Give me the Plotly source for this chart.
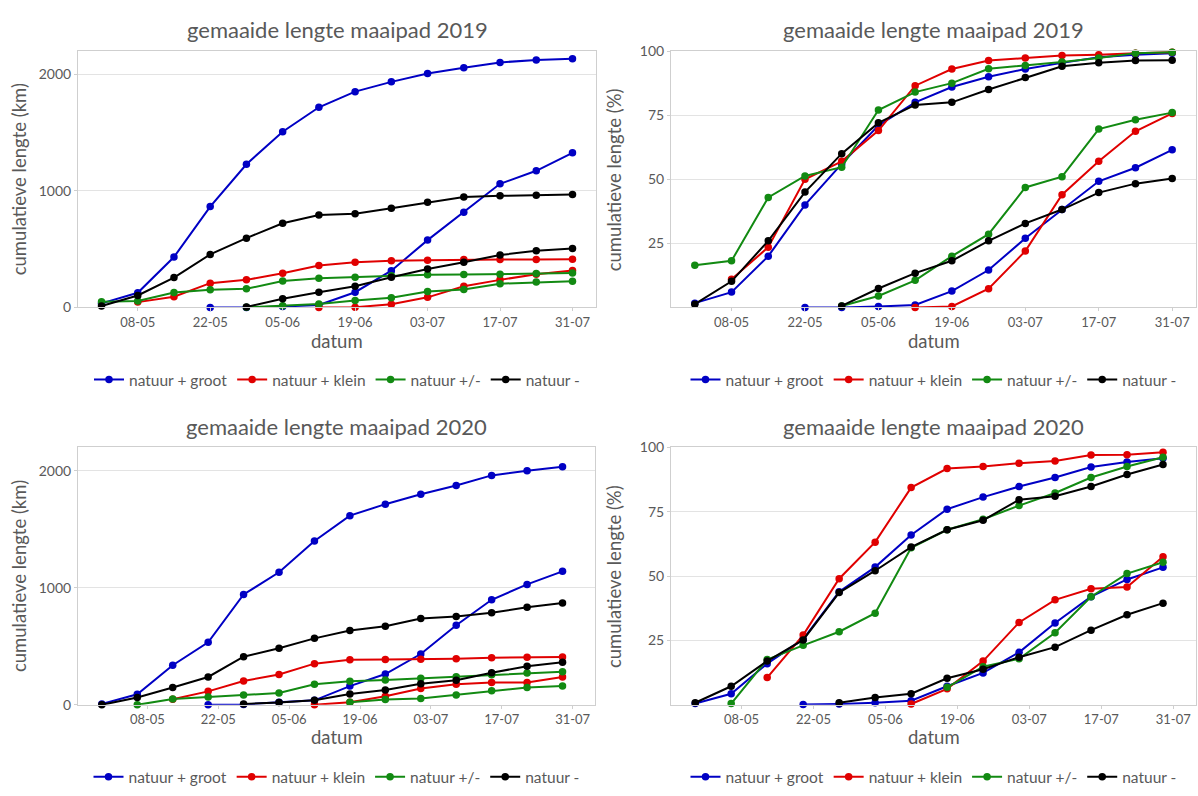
import plotly.graph_objects as go

# ---------------- data ----------------
dates_2019 = ["2019-05-01", "2019-05-08", "2019-05-15", "2019-05-22", "2019-05-29", "2019-06-05", "2019-06-12",
              "2019-06-19", "2019-06-26", "2019-07-03", "2019-07-10", "2019-07-17", "2019-07-24", "2019-07-31"]
dates_2020 = ["2020-04-29", "2020-05-06", "2020-05-13", "2020-05-20", "2020-05-27", "2020-06-03", "2020-06-10",
              "2020-06-17", "2020-06-24", "2020-07-01", "2020-07-08", "2020-07-15", "2020-07-22", "2020-07-29"]

categories = ["natuur + groot", "natuur + klein", "natuur +/-", "natuur -"]
tick_labels = ["08-05", "22-05", "05-06", "19-06", "03-07", "17-07", "31-07"]
ticks_2019 = ["2019-05-08", "2019-05-22", "2019-06-05", "2019-06-19", "2019-07-03", "2019-07-17", "2019-07-31"]
ticks_2020 = ["2020-05-08", "2020-05-22", "2020-06-05", "2020-06-19", "2020-07-03", "2020-07-17", "2020-07-31"]
km_ticks = [0, 1000, 2000]
pct_ticks = [25, 50, 75, 100]

N = None
# 2019, km
km19_groot_1 = [35, 126, 433, 866, 1229, 1508, 1718, 1852, 1936, 2008, 2056, 2103, 2123, 2134]
km19_groot_2 = [N, N, N, 0, 0, 8, 22, 131, 316, 578, 818, 1061, 1173, 1327]
km19_klein_1 = [N, 46, 92, 209, 237, 293, 360, 388, 402, 405, 411, 411, 411, 413]
km19_klein_2 = [N, N, N, N, N, N, 0, 2, 28, 87, 182, 237, 285, 318]
km19_pm_1 = [50, 55, 128, 152, 160, 228, 250, 260, 272, 280, 282, 285, 292, 296]
km19_pm_2 = [N, N, N, N, 2, 14, 30, 61, 84, 137, 154, 204, 218, 226]
km19_min_1 = [13, 103, 257, 455, 595, 723, 793, 804, 852, 902, 947, 958, 964, 969]
km19_min_2 = [N, N, N, N, 5, 75, 131, 182, 260, 330, 388, 450, 486, 506]
# 2019, %
pct19_groot_1 = [1.7, 6, 20, 40, 56, 71, 80, 86, 90, 93, 95.4, 97.6, 98.6, 99.2]
pct19_groot_2 = [N, N, N, 0, 0, 0.4, 1, 6.4, 14.6, 27, 38.2, 49.2, 54.5, 61.5]
pct19_klein_1 = [N, 11, 23.5, 50, 57, 69, 86.5, 93, 96.3, 97.3, 98.3, 98.6, 99.2, 99.5]
pct19_klein_2 = [N, N, N, N, N, N, 0, 0.4, 7.3, 22, 44, 57, 68.7, 75.7]
pct19_pm_1 = [16.5, 18.2, 42.9, 51.3, 54.7, 77, 84, 87.5, 93.1, 94.4, 95.7, 97.3, 99.2, 99.5]
pct19_pm_2 = [N, N, N, N, 0.6, 4.5, 10.6, 20, 28.6, 46.8, 51, 69.6, 73.2, 76]
pct19_min_1 = [1.3, 10.2, 26, 45, 60, 72, 79, 80, 85, 89.7, 94.1, 95.4, 96.3, 96.4]
pct19_min_2 = [N, N, N, N, 0.6, 7.4, 13.4, 18.2, 26, 32.8, 38.2, 44.8, 48.3, 50.3]
# 2020, km
km20_groot_1 = [8, 90, 338, 534, 943, 1133, 1401, 1617, 1715, 1799, 1874, 1961, 2000, 2034]
km20_groot_2 = [N, N, N, 0, 3, 21, 38, 160, 263, 434, 680, 898, 1029, 1141]
km20_klein_1 = [N, N, 47, 115, 204, 260, 352, 385, 388, 389, 394, 403, 406, 408]
km20_klein_2 = [N, N, N, N, N, N, 0, 22, 74, 140, 176, 190, 190, 238]
km20_pm_1 = [N, 0, 49, 67, 83, 101, 176, 201, 213, 228, 240, 257, 271, 283]
km20_pm_2 = [N, N, N, N, N, N, N, 21, 45, 54, 84, 120, 148, 160]
km20_min_1 = [0, 62, 148, 238, 411, 484, 568, 635, 671, 738, 755, 786, 834, 870]
km20_min_2 = [N, N, N, N, 8, 20, 39, 92, 127, 180, 210, 274, 330, 364]
# 2020, %
pct20_groot_1 = [0.5, 4.3, 16, 25.5, 43.9, 53.5, 66, 76, 80.7, 84.8, 88.3, 92.4, 94.3, 95.8]
pct20_groot_2 = [N, N, N, 0.1, 0.3, 0.8, 1.6, 7.2, 12.4, 20.4, 31.8, 42, 48.7, 53.4]
pct20_klein_1 = [N, N, 10.6, 27.1, 49, 63.2, 84.4, 91.8, 92.6, 93.9, 94.7, 97.1, 97.2, 98.1]
pct20_klein_2 = [N, N, N, N, N, N, 0.3, 6.2, 17, 32, 40.8, 45.1, 45.8, 57.5]
pct20_pm_1 = [N, 0.5, 17.6, 23.1, 28.4, 35.6, 61, 68, 72.1, 77.4, 82.3, 88.3, 92.6, 96.2]
pct20_pm_2 = [N, N, N, N, N, N, N, 6.8, 14.8, 17.9, 28, 42, 51, 55.4]
pct20_min_1 = [0.8, 7.2, 17, 25.2, 43.6, 52.1, 61.3, 68, 71.7, 79.7, 81, 84.8, 89.5, 93.4]
pct20_min_2 = [N, N, N, N, 0.8, 2.8, 4.3, 10.3, 13.8, 18.5, 22.4, 29, 35, 39.5]

# ---------------- style ----------------
colors = ["#0000C4", "#E00000", "#128A12", "#000000"]
FONT = "Lato"
TXT = "#595959"
W, H = 1198, 796

def px_x(x):
    return x / W

def px_y(y):
    return 1 - y / H

panels = [
    dict(ax="x", ay="y", lg="legend", dates=dates_2019, ticks=ticks_2019,
         series=[(km19_groot_1, km19_groot_2), (km19_klein_1, km19_klein_2), (km19_pm_1, km19_pm_2), (km19_min_1, km19_min_2)],
         px=(78, 596), py=(43, 305), xr=["2019-04-26 11:00", "2019-08-04 13:00"], yr=[0, 2200], yt=km_ticks,
         ytitle="cumulatieve lengte (km)", title="gemaaide lengte maaipad 2019", ytx=19, tty=21, xty=339, lgy=379),
    dict(ax="x2", ay="y2", lg="legend2", dates=dates_2019, ticks=ticks_2019,
         series=[(pct19_groot_1, pct19_groot_2), (pct19_klein_1, pct19_klein_2), (pct19_pm_1, pct19_pm_2), (pct19_min_1, pct19_min_2)],
         px=(671, 1196), py=(43, 305), xr=["2019-04-26 11:00", "2019-08-04 13:00"], yr=[0, 100], yt=pct_ticks,
         ytitle="cumulatieve lengte (%)", title="gemaaide lengte maaipad 2019", ytx=614, tty=21, xty=339, lgy=379),
    dict(ax="x3", ay="y3", lg="legend3", dates=dates_2020, ticks=ticks_2020,
         series=[(km20_groot_1, km20_groot_2), (km20_klein_1, km20_klein_2), (km20_pm_1, km20_pm_2), (km20_min_1, km20_min_2)],
         px=(78, 595), py=(448, 711), xr=["2020-04-24 07:00", "2020-08-04 10:00"], yr=[0, 2200], yt=km_ticks,
         ytitle="cumulatieve lengte (km)", title="gemaaide lengte maaipad 2020", ytx=19, tty=427, xty=744, lgy=785),
    dict(ax="x4", ay="y4", lg="legend4", dates=dates_2020, ticks=ticks_2020,
         series=[(pct20_groot_1, pct20_groot_2), (pct20_klein_1, pct20_klein_2), (pct20_pm_1, pct20_pm_2), (pct20_min_1, pct20_min_2)],
         px=(671, 1196), py=(448, 711), xr=["2020-04-24 07:00", "2020-08-04 10:00"], yr=[0, 100], yt=pct_ticks,
         ytitle="cumulatieve lengte (%)", title="gemaaide lengte maaipad 2020", ytx=614, tty=427, xty=744, lgy=785),
]

fig = go.Figure()
layout = dict(width=W, height=H, margin=dict(l=0, r=0, t=0, b=0, pad=0),
              paper_bgcolor="white", plot_bgcolor="white",
              font=dict(family=FONT, color=TXT), annotations=[])

for p in panels:
    for ci, (s1, s2) in enumerate(p["series"]):
        for k, s in enumerate((s1, s2)):
            fig.add_trace(go.Scatter(
                x=p["dates"], y=s, mode="lines+markers", name=categories[ci],
                line=dict(color=colors[ci], width=2), marker=dict(color=colors[ci], size=7.5),
                connectgaps=False, legendgroup=p["lg"] + categories[ci], showlegend=(k == 0),
                legend=p["lg"], xaxis=p["ax"], yaxis=p["ay"], cliponaxis=False))
    xname = "xaxis" + p["ax"][1:]
    yname = "yaxis" + p["ay"][1:]
    layout[xname] = dict(domain=[px_x(p["px"][0]), px_x(p["px"][1])], anchor=p["ay"], type="date",
                         range=p["xr"], tickvals=p["ticks"], ticktext=tick_labels,
                         showgrid=False, zeroline=False, showline=True, linecolor="#cfcfcf", linewidth=1,
                         mirror=True, ticks="outside", ticklen=3, tickcolor="#cfcfcf",
                         tickfont=dict(family=FONT, size=13, color=TXT))
    layout[yname] = dict(domain=[px_y(p["py"][1]), px_y(p["py"][0])], anchor=p["ax"],
                         range=p["yr"], tickvals=p["yt"], showgrid=True, gridcolor="#e3e3e3", gridwidth=1,
                         zeroline=False, showline=True, linecolor="#cfcfcf", linewidth=1, mirror=True,
                         ticks="outside", ticklen=3, tickcolor="#cfcfcf",
                         tickfont=dict(family=FONT, size=14, color=TXT))
    cx = (p["px"][0] + p["px"][1]) / 2
    cy = (p["py"][0] + p["py"][1]) / 2
    layout[p["lg"]] = dict(orientation="h", x=px_x(cx), xanchor="center", y=px_y(p["lgy"]), yanchor="middle",
                           font=dict(family=FONT, size=15.5, color=TXT), bgcolor="rgba(0,0,0,0)",
                           itemwidth=30, tracegroupgap=0)
    layout["annotations"] += [
        dict(text=p["title"], x=px_x(cx), y=px_y(p["tty"]), xref="paper", yref="paper",
             xanchor="center", yanchor="middle", showarrow=False, font=dict(family=FONT, size=22, color=TXT)),
        dict(text="datum", x=px_x(cx), y=px_y(p["xty"]), xref="paper", yref="paper",
             xanchor="center", yanchor="middle", showarrow=False, font=dict(family=FONT, size=18.5, color=TXT)),
        dict(text=p["ytitle"], x=px_x(p["ytx"]), y=px_y(cy), xref="paper", yref="paper", textangle=-90,
             xanchor="center", yanchor="middle", showarrow=False, font=dict(family=FONT, size=18.5, color=TXT)),
    ]

fig.update_layout(**layout)
fig.write_html("out.html")
